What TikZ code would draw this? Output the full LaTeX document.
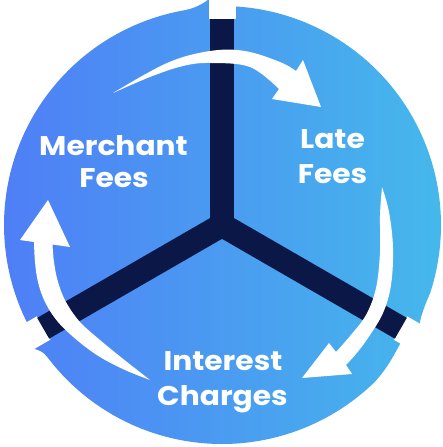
\documentclass[tikz,border=0pt]{standalone}
\usepackage{fontspec}
\setmainfont{Poppins}
\definecolor{navy}{HTML}{0B1847}
\definecolor{bleft}{HTML}{4F7DF7}
\definecolor{bright}{HTML}{45B9EB}
\begin{document}
\begin{tikzpicture}[x=1pt,y=-1pt,
  lbl/.style={font=\fontsize{27}{30}\selectfont\bfseries, text=white, anchor=base, inner sep=0pt, xscale=1.1},
  notch/.style={draw=white, line width=27},
  bar/.style={draw=navy, line width=24}]
\useasboundingbox (0,0) rectangle (443,447);
\coordinate (O) at (222,225);
\begin{scope}[shift={(222,225)}]
  % the disc, made of three pieces
  \shade[left color=bleft, right color=bright]
    (-86.6:219) arc[start angle=-86.6, end angle=18, radius=219]
    .. controls (22:218) and (25:219) .. (26.6:221)
    -- (33.4:214)
    .. controls (37:215.5) and (41:219) .. (46:219)
    arc[start angle=46, end angle=142.7, radius=219]
    .. controls (144.5:219) and (145.5:221) .. (146.6:225)
    -- (153.4:218)
    arc[start angle=153.4, end angle=260, radius=218]
    .. controls (263:218.5) and (265:222) .. (266.6:226)
    -- cycle;
  % gaps between pieces
  \foreach \a in {-90,30,150} \path[notch] (\a:206) -- (\a:245);
  % navy spokes
  \foreach \a in {-90,30,150} \path[bar] (0,0) -- (\a:206.5);
  \fill[navy] (-30:14) -- (90:14) -- (210:14) -- cycle;
\end{scope}
% curved arrows
\fill[white] (113,93) -- plot[smooth, tension=0.6] coordinates {(113,93) (167,63) (210,51) (245,51) (280,62) (296,71)}
  -- (303,60) -- (321,107) -- (272,99)
  -- plot[smooth, tension=0.6] coordinates {(279,89) (250,67) (210,63) (183,66) (150,77) (113,93)} -- cycle;
\fill[white] (382,187) -- plot[smooth, tension=0.6] coordinates {(382,187) (389,212) (393,248) (391,285) (383,313) (368,338) (356,354) (346,365)}
  -- (352,374) -- (302,378) -- (329,343)
  -- plot[smooth, tension=0.6] coordinates {(336,352) (350,336) (366,315) (376,288) (380,252) (380,215) (382,187)} -- cycle;
\fill[white] (150,380) -- plot[smooth, tension=0.6] coordinates {(150,380) (125,370) (100,357) (78,341) (58,322) (45,302) (38,282) (35,262) (34,242)}
  -- (20,240) -- (48,200) -- (70,247)
  -- plot[smooth, tension=0.6] coordinates {(52.5,244.5) (54,262) (58,282) (66,302) (80,322) (100,340) (122,358) (150,380)} -- cycle;
% labels
\node[lbl] (m1) at (113.5,155) {Merchant};
\node[lbl] (m2) at (114,187) {Fees};
\node[lbl] (l1) at (332.5,148) {Late};
\node[lbl] (l2) at (332.5,183) {Fees};
\node[lbl] (i1) at (223,370) {Interest};
\node[lbl] (i2) at (222.5,405) {Charges};
\end{tikzpicture}
\end{document}
